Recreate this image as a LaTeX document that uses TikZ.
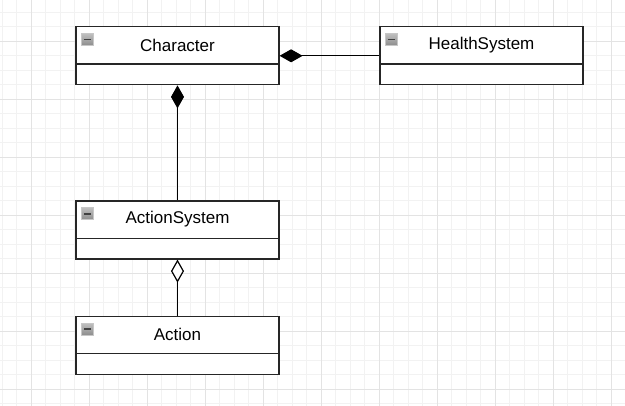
\documentclass[tikz,border=0pt]{standalone}
\usepackage{fontspec}
\setmainfont{Liberation Sans}
\usetikzlibrary{positioning, arrows.meta}

\begin{document}
\begin{tikzpicture}[
  x=1pt, y=-1pt,
  gridminor/.style={line width=0.8pt, black!5},
  gridmajor/.style={line width=0.8pt, black!11},
  umlbox/.style={rectangle, draw=black!85, line width=1.2pt, fill=white,
                 minimum width=203pt, minimum height=58pt, inner sep=0pt},
  umlhead/.style={rectangle, minimum width=203pt, minimum height=37.5pt,
                  inner sep=0pt, font=\fontsize{17}{20}\selectfont},
  icon/.style={rectangle, draw=black!22, line width=0.8pt, inner sep=0pt,
               minimum size=12pt, top color=black!25, bottom color=black!45,
               path picture={\draw[line width=1.7pt, black!75]
                 ([xshift=2.4pt]path picture bounding box.west) --
                 ([xshift=-2.4pt]path picture bounding box.east);}},
  comp/.style={{Diamond[length=23pt, width=13pt]}-, line width=1.2pt},
  aggr/.style={{Diamond[open, length=23pt, width=13pt, fill=white]}-, line width=1.2pt},
]
\useasboundingbox (0,0) rectangle (625,406);
\fill[white] (0,0) rectangle (625,406);

% grid
\foreach \i in {0,...,42}
  \draw[gridminor] ({2.3+14.5*\i},0) -- ({2.3+14.5*\i},406);
\foreach \i in {0,...,27}
  \draw[gridminor] (0,{12.3+14.5*\i}) -- (625,{12.3+14.5*\i});
\foreach \i in {0,...,10}
  \draw[gridmajor] ({31.3+58*\i},0) -- ({31.3+58*\i},406);
\foreach \i in {0,...,6}
  \draw[gridmajor] (0,{41.3+58*\i}) -- (625,{41.3+58*\i});

% classes
\node[umlbox] at (177.5, 55.8) (char) {};
\node[umlhead, below=0pt of char.north] (charH) {Character};
\node[icon, below right=7pt and 6pt of char.north west] (charI) {};

\node[umlbox] at (481.5, 55.8) (health) {};
\node[umlhead, below=0pt of health.north] (healthH) {HealthSystem};
\node[icon, below right=7pt and 6pt of health.north west] (healthI) {};

\node[umlbox] at (177.5, 230) (actsys) {};
\node[umlhead, below=0pt of actsys.north] (actsysH) {ActionSystem};
\node[icon, below right=7pt and 6pt of actsys.north west] (actsysI) {};

\node[umlbox] at (177.5, 345.5) (action) {};
\node[umlhead, below=0pt of action.north] (actionH) {Action};
\node[icon, below right=7pt and 6pt of action.north west] (actionI) {};

\draw[black!85, line width=1.2pt] (charH.south west) -- (charH.south east);
\draw[black!85, line width=1.2pt] (healthH.south west) -- (healthH.south east);
\draw[black!85, line width=1.2pt] (actsysH.south west) -- (actsysH.south east);
\draw[black!85, line width=1.2pt] (actionH.south west) -- (actionH.south east);

% relations
\draw[comp] (char) -- (health);
\draw[comp] (char) -- (actsys);
\draw[aggr] (actsys) -- (action);
\end{tikzpicture}
\end{document}
